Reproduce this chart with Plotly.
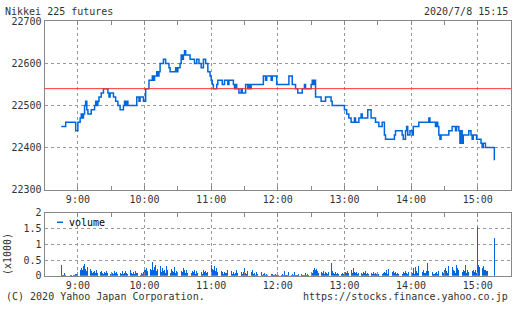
import plotly.graph_objects as go
import pandas as pd

DAY = "2020-07-08 "

# ---- price (change points of a step line, 1-minute resolution) ----
price_times = [
    "08:45", "08:49", "08:58", "09:00", "09:02", "09:03", "09:04", "09:05", "09:06", "09:07",
    "09:08", "09:09", "09:12", "09:15", "09:16", "09:17", "09:18", "09:19", "09:21", "09:23",
    "09:27", "09:28", "09:29", "09:32", "09:34", "09:36", "09:38", "09:41", "09:42", "09:43",
    "09:44", "09:45", "09:53", "09:55", "09:56", "09:59", "10:01", "10:04", "10:07", "10:08",
    "10:09", "10:11", "10:12", "10:13", "10:14", "10:17", "10:19", "10:22", "10:23", "10:28",
    "10:29", "10:30", "10:32", "10:33", "10:34", "10:35", "10:36", "10:37", "10:41", "10:45",
    "10:47", "10:49", "10:51", "10:53", "10:55", "10:57", "10:59", "11:00", "11:01", "11:02",
    "11:05", "11:06", "11:10", "11:12", "11:15", "11:16", "11:20", "11:21", "11:22", "11:23",
    "11:25", "11:27", "11:28", "11:31", "11:33", "11:34", "11:35", "11:36", "11:47", "11:49",
    "11:50", "11:54", "11:55", "11:59", "12:10", "12:13", "12:16", "12:18", "12:22", "12:24",
    "12:25", "12:30", "12:31", "12:32", "12:33", "12:34", "12:39", "12:43", "12:48", "12:49",
    "13:00", "13:02", "13:04", "13:06", "13:09", "13:10", "13:13", "13:15", "13:16", "13:21",
    "13:24", "13:28", "13:31", "13:34", "13:36", "13:37", "13:45", "13:46", "13:52", "13:53",
    "13:55", "13:56", "13:57", "13:59", "14:01", "14:02", "14:07", "14:16", "14:17", "14:22",
    "14:23", "14:24", "14:25", "14:26", "14:27", "14:34", "14:37", "14:40", "14:41", "14:43",
    "14:44", "14:45", "14:46", "14:47", "14:52", "14:54", "14:55", "14:56", "14:59", "15:03",
    "15:04", "15:05", "15:07", "15:15",
]
price_values = [
    22450, 22460, 22440, 22460, 22470, 22480, 22470, 22480, 22500, 22510,
    22490, 22480, 22490, 22500, 22510, 22500, 22510, 22520, 22530, 22540,
    22530, 22520, 22530, 22520, 22510, 22500, 22490, 22500, 22510, 22500,
    22510, 22500, 22520, 22510, 22520, 22510, 22540, 22560, 22570, 22560,
    22570, 22580, 22570, 22580, 22600, 22610, 22600, 22590, 22580, 22590,
    22580, 22590, 22600, 22620, 22610, 22620, 22630, 22620, 22610, 22600,
    22610, 22600, 22590, 22610, 22600, 22580, 22570, 22560, 22550, 22540,
    22550, 22560, 22550, 22560, 22550, 22560, 22550, 22540, 22550, 22540,
    22530, 22540, 22530, 22550, 22540, 22550, 22540, 22550, 22570, 22560,
    22570, 22560, 22570, 22550, 22570, 22550, 22540, 22530, 22540, 22550,
    22540, 22550, 22560, 22550, 22560, 22520, 22510, 22520, 22510, 22500,
    22490, 22480, 22470, 22460, 22470, 22460, 22470, 22480, 22470, 22490,
    22470, 22460, 22450, 22460, 22430, 22420, 22430, 22440, 22430, 22420,
    22440, 22450, 22430, 22440, 22430, 22450, 22460, 22470, 22460, 22450,
    22460, 22450, 22430, 22420, 22430, 22440, 22450, 22440, 22450, 22440,
    22410, 22440, 22410, 22430, 22440, 22430, 22420, 22430, 22420, 22410,
    22400, 22410, 22400, 22370,
]
base_price = 22540  # red reference line

# ---- volume per minute from 08:45 (contracts) ----
vol_start = "08:45"
volume = (
    [350, 40, 20, 90, 30, 10, 20, 60, 30, 20, 10, 40, 20, 70, 60]
    + [150, 120, 200, 250, 180, 300, 370, 220, 150, 280, 160, 230, 140, 90, 120,
       160, 100, 200, 80, 130, 110, 150, 90, 60, 120, 100, 140, 80, 110, 70]
    + [120, 90, 60, 150, 80, 110, 50, 130, 90, 70, 140, 60, 100, 150, 80,
       60, 120, 200, 90, 50, 130, 70, 140, 90, 100, 60, 40, 80, 50, 120]
    + [200, 180, 250, 150, 300, 220, 170, 450, 200, 280, 350, 150, 230, 180, 310,
       120, 260, 140, 200, 100, 300, 170, 120, 90, 230, 150, 110, 280, 80, 160]
    + [130, 200, 90, 150, 110, 260, 180, 100, 170, 90, 220, 130, 80, 160, 120,
       190, 70, 140, 100, 250, 90, 130, 60, 180, 110, 150, 80, 120, 200, 140]
    + [350, 220, 180, 300, 150, 260, 120, 200, 90, 150, 110, 60, 130, 80, 100,
       170, 60, 90, 140, 70, 120, 50, 100, 180, 90, 60, 210, 110, 70, 130]
    + [240, 100, 60, 150, 80, 270, 120, 200, 70, 90, 40, 130, 60, 80, 50,
       110, 40, 70, 90, 30, 60, 40, 80, 30, 50, 70, 20, 40, 60, 30]
    + [50, 20, 40, 30, 60, 20, 150, 30, 40, 20, 130, 50, 30, 60, 20,
       110, 40, 30, 20, 50, 30, 60, 40, 20, 30, 80, 40, 60, 30, 50]
    + [120, 80, 200, 250, 180, 220, 150, 100, 60, 130, 90, 160, 70, 110, 80,
       60, 120, 90, 400, 150, 100, 70, 130, 60, 80, 50, 100, 60, 90, 70]
    + [60, 120, 80, 150, 100, 220, 180, 90, 250, 130, 80, 110, 60, 100, 140,
       90, 70, 120, 80, 150, 60, 90, 50, 110, 80, 60, 130, 70, 90, 50]
    + [100, 70, 220, 150, 60, 90, 120, 80, 180, 50, 220, 90, 60, 130, 150,
       80, 110, 60, 90, 50, 100, 70, 60, 120, 80, 150, 90, 60, 110, 80]
    + [200, 90, 250, 60, 280, 150, 100, 300, 130, 80, 120, 200, 100, 90, 160,
       400, 150, 80, 220, 110, 70, 60, 80, 120, 60, 150, 90, 200, 130, 80]
    + [170, 260, 150, 90, 300, 220, 130, 280, 200, 150, 100, 350, 240, 180, 550,
       250, 120, 200, 150, 350, 100, 180, 120, 280, 400, 150, 200, 120, 170, 100]
    + [1550, 350, 280, 320, 250, 300, 200, 180, 150, 140, 0, 0, 0, 0, 0, 1210]
)

vol_ticks = [0, 0.5, 1, 1.5, 2]
vol_ticktext = ["0", "0.5", "1", "1.5", "2"]
price_ticks = [22300, 22400, 22500, 22600, 22700]
price_ticktext = ["22300", "22400", "22500", "22600", "22700"]

BLUE = "#0066dd"
RED = "#ff3333"
GRID = "#999999"
FRAME = "#888888"
TXT = "#333333"
FONT = "DejaVu Sans Mono"

fig = go.Figure()
fig.add_trace(go.Scatter(
    x=[DAY + t for t in price_times], y=price_values, mode="lines",
    line=dict(shape="hv", color=BLUE, width=1.5),
    xaxis="x", yaxis="y", showlegend=False, hoverinfo="skip"))

vol_times = pd.date_range(DAY + vol_start, periods=len(volume), freq="1min")
fig.add_trace(go.Bar(
    x=vol_times, y=[v / 1000 for v in volume],
    marker=dict(color=BLUE, line_width=0), width=45000,
    xaxis="x2", yaxis="y2", showlegend=False, hoverinfo="skip"))

xdom = [44.6 / 512, 511 / 512]
xcommon = dict(
    domain=xdom, type="date",
    range=[DAY + "08:30", DAY + "15:30"],
    tick0=DAY + "09:00", dtick=3600000, tickformat="%-H:%M",
    showgrid=True, gridcolor=GRID, griddash="dot", gridwidth=1,
    showline=True, linecolor=FRAME, linewidth=1, mirror="ticks",
    ticks="inside", ticklen=4, tickcolor=FRAME,
    minor=dict(dtick=1800000, tick0=DAY + "09:30", ticks="inside", ticklen=4,
               tickcolor=FRAME, showgrid=False),
    tickfont=dict(family=FONT, size=10, color=TXT),
    zeroline=False, fixedrange=True,
)
fig.update_layout(
    width=512, height=310,
    margin=dict(l=0, r=0, t=0, b=0),
    paper_bgcolor="white", plot_bgcolor="white",
    bargap=0,
    xaxis=dict(anchor="y", **xcommon),
    xaxis2=dict(anchor="y2", **xcommon),
    yaxis=dict(
        domain=[1 - 191 / 310, 1 - 16 / 310], range=[22300, 22700],
        tickvals=price_ticks, ticktext=price_ticktext,
        showgrid=True, gridcolor=GRID, griddash="dot",
        showline=True, linecolor=FRAME, mirror=True, ticks="",
        tickfont=dict(family=FONT, size=10, color=TXT), zeroline=False,
        fixedrange=True),
    yaxis2=dict(
        domain=[1 - 280.7 / 310, 1 - 215 / 310], range=[0, 2],
        tickvals=vol_ticks, ticktext=vol_ticktext, showgrid=True,
        gridcolor=GRID, griddash="dot",
        showline=True, linecolor=FRAME, mirror=True, ticks="",
        tickfont=dict(family=FONT, size=10, color=TXT), zeroline=False,
        fixedrange=True),
    shapes=[
        dict(type="line", xref="x domain", yref="y", x0=0, x1=1,
             y0=base_price, y1=base_price, line=dict(color=RED, width=1)),
        dict(type="line", xref="paper", yref="paper",
             x0=57 / 512, x1=63 / 512, y0=1 - 225 / 310, y1=1 - 225 / 310,
             line=dict(color=BLUE, width=1.5)),
    ],
    annotations=[
        dict(text="Nikkei 225 futures", xref="paper", yref="paper",
             x=3 / 512, y=1 - 6 / 310, xanchor="left", yanchor="middle",
             showarrow=False, font=dict(family=FONT, size=10, color=TXT)),
        dict(text="2020/7/8 15:15", xref="paper", yref="paper",
             x=510 / 512, y=1 - 6 / 310, xanchor="right", yanchor="middle",
             showarrow=False, font=dict(family=FONT, size=10, color=TXT)),
        dict(text="(C) 2020 Yahoo Japan Corporation.", xref="paper", yref="paper",
             x=4 / 512, y=1 - 302 / 310, xanchor="left", yanchor="middle",
             showarrow=False, font=dict(family=FONT, size=10, color=TXT)),
        dict(text="https://stocks.finance.yahoo.co.jp", xref="paper", yref="paper",
             x=510 / 512, y=1 - 302 / 310, xanchor="right", yanchor="middle",
             showarrow=False, font=dict(family=FONT, size=10, color=TXT)),
        dict(text="(x1000)", xref="paper", yref="paper", textangle=-90,
             x=7 / 512, y=1 - 258 / 310, xanchor="center", yanchor="middle",
             showarrow=False, font=dict(family=FONT, size=10, color=TXT)),
        dict(text="volume", xref="paper", yref="paper",
             x=67 / 512, y=1 - 225 / 310, xanchor="left", yanchor="middle",
             showarrow=False, font=dict(family=FONT, size=10, color="#000000")),
    ],
)

fig.write_html("out.html", config={"displayModeBar": False, "staticPlot": True})
